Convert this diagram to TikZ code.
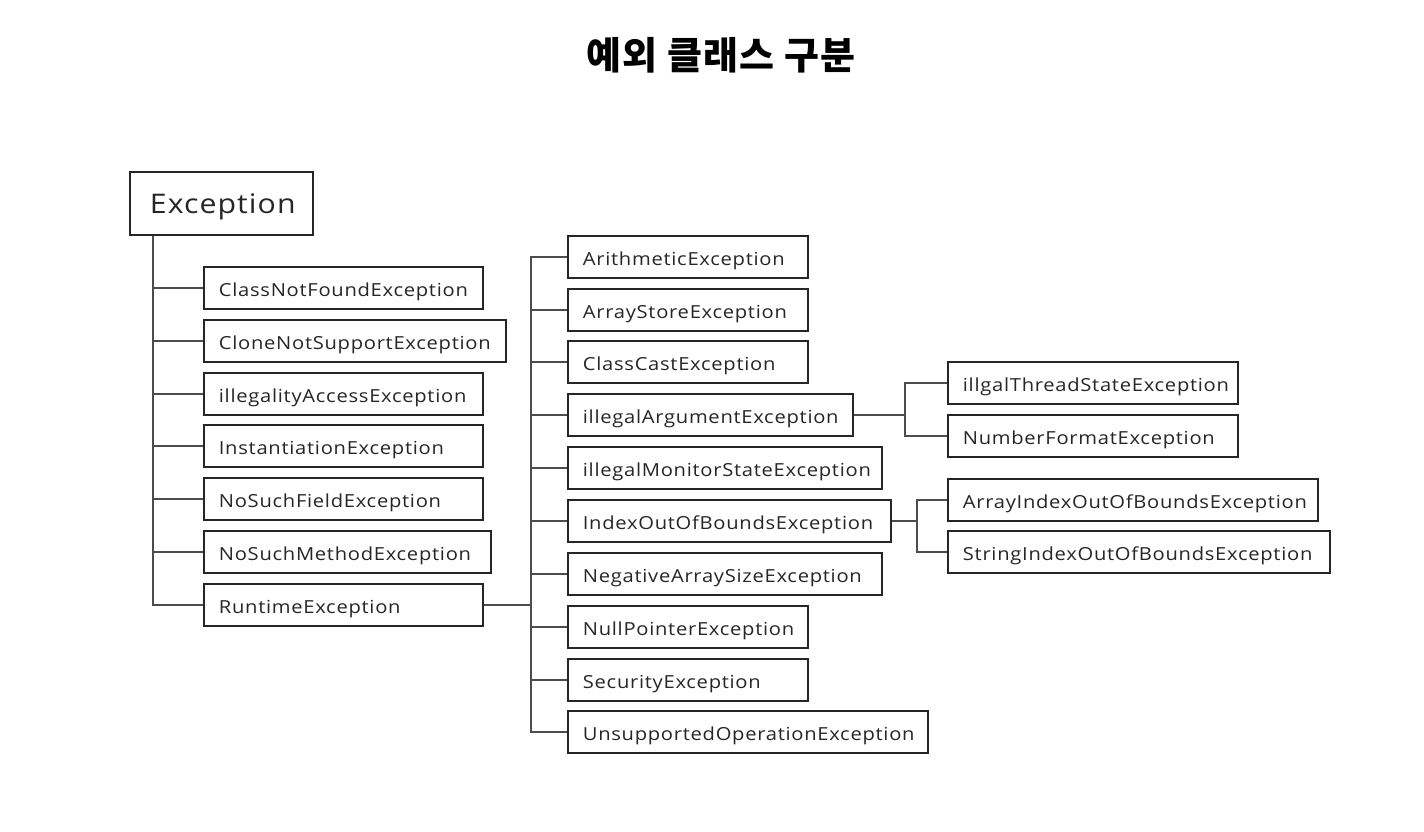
\documentclass[tikz,border=0pt]{standalone}
\usepackage{fontspec}
\setmainfont{Open Sans}
\newfontfamily\boxfont{Open Sans}[FakeStretch=1.12,LetterSpace=4]
\newfontfamily\kr{Noto Sans CJK KR}[LetterSpace=3]
\begin{document}
\begin{tikzpicture}[x=1pt,y=-1pt,
  box/.style={draw=black!85, line width=1.8pt, anchor=west, minimum height=42pt,
    inner xsep=15pt, inner ysep=0pt, text width=#1, align=left,
    text height=16pt, text depth=0pt,
    font=\boxfont\fontsize{18}{20}\selectfont, text=black!85},
  conn/.style={draw=black!70, line width=1.3pt}]
\useasboundingbox (0,0) rectangle (1424,832);
\fill[white] (0,0) rectangle (1424,832);
\node[font=\kr\bfseries\fontsize{38}{42}\selectfont] (title) at (721,55) {예외 클래스 구분};

\node[draw=black!85, line width=1.8pt, anchor=west, minimum height=63pt, minimum width=183pt,
  inner xsep=20pt, inner ysep=0pt, text width=143pt, align=left, text height=19pt, text depth=0pt,
  font=\boxfont\fontsize{27}{32}\selectfont, text=black!85] (exc) at (129,203.5) {Exception};

% left column
\node[box=249pt] (cnf) at (203,288) {ClassNotFoundException};
\node[box=272pt] (cns) at (203,341) {CloneNotSupportException};
\node[box=249pt] (iae) at (203,394) {illegalityAccessException};
\node[box=249pt] (ins) at (203,446) {InstantiationException};
\node[box=249pt] (nsf) at (203,499) {NoSuchFieldException};
\node[box=257pt] (nsm) at (203,552) {NoSuchMethodException};
\node[box=249pt] (rt)  at (203,605) {RuntimeException};

% middle column
\node[box=210pt] (ari) at (567,257) {ArithmeticException};
\node[box=210pt] (ase) at (567,310) {ArrayStoreException};
\node[box=210pt] (cce) at (567,362) {ClassCastException};
\node[box=255pt] (iar) at (567,415) {illegalArgumentException};
\node[box=284pt] (ims) at (567,468) {illegalMonitorStateException};
\node[box=293pt] (ioo) at (567,521) {IndexOutOfBoundsException};
\node[box=284pt] (nas) at (567,574) {NegativeArraySizeException};
\node[box=210pt] (npe) at (567,627) {NullPointerException};
\node[box=210pt] (sec) at (567,680) {SecurityException};
\node[box=330pt] (uoe) at (567,732) {UnsupportedOperationException};

% right column
\node[box=260pt] (its) at (947,383) {illgalThreadStateException};
\node[box=260pt] (nfe) at (947,436) {NumberFormatException};
\node[box=340pt] (aio) at (947,500) {ArrayIndexOutOfBoundsException};
\node[box=352pt] (sio) at (947,552) {StringIndexOutOfBoundsException};

% connectors
\coordinate (t1) at (153,0);
\coordinate (t2) at (531,0);
\coordinate (t3) at (905,0);
\coordinate (t4) at (917,0);

\draw[conn] (exc.south -| t1) |- (rt.west);
\foreach \n in {cnf,cns,iae,ins,nsf,nsm}
  \draw[conn] (\n.west -| t1) -- (\n.west);

\draw[conn] (rt.east) -- (rt.east -| t2);
\draw[conn] (ari.west) -| (uoe.west -| t2) -- (uoe.west);
\foreach \n in {ase,cce,iar,ims,ioo,nas,npe,sec}
  \draw[conn] (\n.west -| t2) -- (\n.west);

\draw[conn] (iar.east) -- (iar.east -| t3);
\draw[conn] (its.west) -| (nfe.west -| t3) -- (nfe.west);

\draw[conn] (ioo.east) -- (ioo.east -| t4);
\draw[conn] (aio.west) -| (sio.west -| t4) -- (sio.west);
\end{tikzpicture}
\end{document}
